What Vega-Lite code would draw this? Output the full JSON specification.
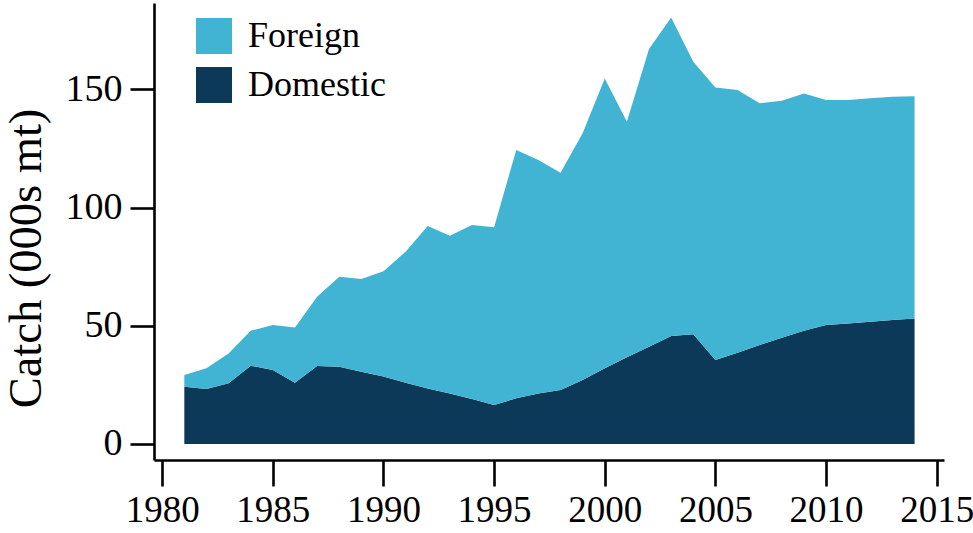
{
  "$schema": "https://vega.github.io/schema/vega-lite/v6.json",
  "autosize": "none",
  "width": 790,
  "height": 457,
  "padding": {"left": 154, "top": 3, "right": 29, "bottom": 73},
  "background": "white",
  "config": {
    "view": {"stroke": null},
    "font": "Liberation Serif"
  },
  "data": {
    "values": [
      {"year": 1981, "type": "Domestic", "catch": 24.2}, {"year": 1981, "type": "Foreign", "catch": 5.0},
      {"year": 1982, "type": "Domestic", "catch": 23.3}, {"year": 1982, "type": "Foreign", "catch": 8.7},
      {"year": 1983, "type": "Domestic", "catch": 25.7}, {"year": 1983, "type": "Foreign", "catch": 12.6},
      {"year": 1984, "type": "Domestic", "catch": 33.1}, {"year": 1984, "type": "Foreign", "catch": 14.8},
      {"year": 1985, "type": "Domestic", "catch": 31.3}, {"year": 1985, "type": "Foreign", "catch": 19.0},
      {"year": 1986, "type": "Domestic", "catch": 25.9}, {"year": 1986, "type": "Foreign", "catch": 23.4},
      {"year": 1987, "type": "Domestic", "catch": 33.0}, {"year": 1987, "type": "Foreign", "catch": 29.3},
      {"year": 1988, "type": "Domestic", "catch": 32.7}, {"year": 1988, "type": "Foreign", "catch": 38.0},
      {"year": 1989, "type": "Domestic", "catch": 30.6}, {"year": 1989, "type": "Foreign", "catch": 39.2},
      {"year": 1990, "type": "Domestic", "catch": 28.5}, {"year": 1990, "type": "Foreign", "catch": 44.6},
      {"year": 1991, "type": "Domestic", "catch": 25.9}, {"year": 1991, "type": "Foreign", "catch": 55.4},
      {"year": 1992, "type": "Domestic", "catch": 23.5}, {"year": 1992, "type": "Foreign", "catch": 68.7},
      {"year": 1993, "type": "Domestic", "catch": 21.4}, {"year": 1993, "type": "Foreign", "catch": 66.7},
      {"year": 1994, "type": "Domestic", "catch": 19.0}, {"year": 1994, "type": "Foreign", "catch": 73.6},
      {"year": 1995, "type": "Domestic", "catch": 16.5}, {"year": 1995, "type": "Foreign", "catch": 75.2},
      {"year": 1996, "type": "Domestic", "catch": 19.3}, {"year": 1996, "type": "Foreign", "catch": 105.0},
      {"year": 1997, "type": "Domestic", "catch": 21.4}, {"year": 1997, "type": "Foreign", "catch": 98.7},
      {"year": 1998, "type": "Domestic", "catch": 22.8}, {"year": 1998, "type": "Foreign", "catch": 91.9},
      {"year": 1999, "type": "Domestic", "catch": 27.1}, {"year": 1999, "type": "Foreign", "catch": 104.3},
      {"year": 2000, "type": "Domestic", "catch": 32.0}, {"year": 2000, "type": "Foreign", "catch": 122.6},
      {"year": 2001, "type": "Domestic", "catch": 36.7}, {"year": 2001, "type": "Foreign", "catch": 99.6},
      {"year": 2002, "type": "Domestic", "catch": 41.1}, {"year": 2002, "type": "Foreign", "catch": 125.9},
      {"year": 2003, "type": "Domestic", "catch": 45.7}, {"year": 2003, "type": "Foreign", "catch": 134.7},
      {"year": 2004, "type": "Domestic", "catch": 46.4}, {"year": 2004, "type": "Foreign", "catch": 115.3},
      {"year": 2005, "type": "Domestic", "catch": 35.5}, {"year": 2005, "type": "Foreign", "catch": 115.3},
      {"year": 2006, "type": "Domestic", "catch": 38.6}, {"year": 2006, "type": "Foreign", "catch": 111.1},
      {"year": 2007, "type": "Domestic", "catch": 41.9}, {"year": 2007, "type": "Foreign", "catch": 102.2},
      {"year": 2008, "type": "Domestic", "catch": 44.9}, {"year": 2008, "type": "Foreign", "catch": 100.3},
      {"year": 2009, "type": "Domestic", "catch": 47.9}, {"year": 2009, "type": "Foreign", "catch": 100.3},
      {"year": 2010, "type": "Domestic", "catch": 50.3}, {"year": 2010, "type": "Foreign", "catch": 95.2},
      {"year": 2011, "type": "Domestic", "catch": 51.0}, {"year": 2011, "type": "Foreign", "catch": 94.5},
      {"year": 2012, "type": "Domestic", "catch": 51.7}, {"year": 2012, "type": "Foreign", "catch": 94.5},
      {"year": 2013, "type": "Domestic", "catch": 52.4}, {"year": 2013, "type": "Foreign", "catch": 94.5},
      {"year": 2014, "type": "Domestic", "catch": 53.1}, {"year": 2014, "type": "Foreign", "catch": 94.0}
    ]
  },
  "mark": {"type": "area", "interpolate": "linear", "opacity": 1},
  "encoding": {
    "x": {
      "field": "year",
      "type": "quantitative",
      "scale": {"domain": [1979.63, 2015.33], "nice": false, "zero": false},
      "axis": {
        "values": [1980, 1985, 1990, 1995, 2000, 2005, 2010, 2015],
        "format": "d",
        "title": null,
        "grid": false,
        "domainColor": "black",
        "domainWidth": 2.6,
        "tickColor": "black",
        "tickWidth": 2.6,
        "tickSize": 26,
        "labelFont": "Liberation Serif",
        "labelFontSize": 37,
        "labelColor": "black",
        "labelPadding": 6,
        "labelFlush": false
      }
    },
    "y": {
      "field": "catch",
      "type": "quantitative",
      "stack": "zero",
      "scale": {"domain": [-6.77, 186.5], "nice": false, "zero": false},
      "axis": {
        "values": [0, 50, 100, 150],
        "title": "Catch (000s mt)",
        "grid": false,
        "domainColor": "black",
        "domainWidth": 2.6,
        "tickColor": "black",
        "tickWidth": 2.6,
        "tickSize": 24,
        "labelFont": "Liberation Serif",
        "labelFontSize": 38,
        "labelColor": "black",
        "labelPadding": 8,
        "labelFlush": false,
        "titleFont": "Liberation Serif",
        "titleFontSize": 46.5,
        "titleFontWeight": "normal",
        "titleColor": "black",
        "titleAngle": -90,
        "titleAlign": "center",
        "titleBaseline": "alphabetic",
        "titleX": -114,
        "titleY": 255
      }
    },
    "color": {
      "field": "type",
      "type": "nominal",
      "scale": {"domain": ["Foreign", "Domestic"], "range": ["#41B3D3", "#0D3959"]},
      "legend": {
        "title": null,
        "orient": "none",
        "legendX": 42,
        "legendY": 15,
        "padding": 0,
        "symbolType": "square",
        "symbolSize": 1296,
        "symbolStrokeWidth": 0,
        "symbolOpacity": 1,
        "labelFont": "Liberation Serif",
        "labelFontSize": 36,
        "labelColor": "black",
        "labelOffset": 16,
        "rowPadding": 13
      }
    },
    "order": {"field": "type", "sort": "ascending"}
  }
}
